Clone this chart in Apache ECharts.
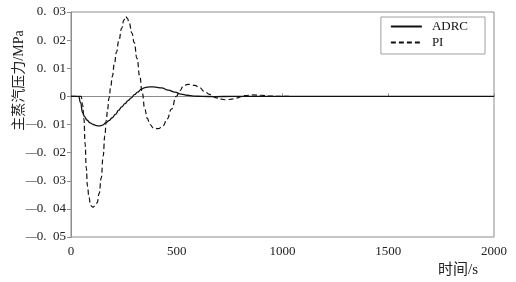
<!DOCTYPE html>
<html>
<head>
<meta charset="utf-8">
<script src="https://cdn.jsdelivr.net/npm/echarts@6/dist/echarts.min.js"></script>
<style>html,body{margin:0;padding:0;background:#fff;}#c{width:516px;height:282px;}</style>
</head>
<body>
<div id="c"></div>
<script>
var seriesNames = ['ADRC', 'PI'];
var xTicks = [0, 500, 1000, 1500, 2000];
var yTicks = [-0.05, -0.04, -0.03, -0.02, -0.01, 0, 0.01, 0.02, 0.03];
var xName = '时间/s';
var yName = '主蒸汽压力/MPa';

var adrcTime = [0, 36, 45, 55, 65, 75, 90, 105, 120, 135, 150, 165, 180, 195, 210, 225, 240, 255, 270, 285, 300, 315, 333, 350, 373, 400, 428, 460, 491, 520, 550, 580, 620, 680, 760, 1000, 1500, 2000];
var adrcValue = [0, 0, -0.0022, -0.0058, -0.0073, -0.0084, -0.0094, -0.0100, -0.0104, -0.0105, -0.0102, -0.0094, -0.0086, -0.0076, -0.0064, -0.0050, -0.0037, -0.0026, -0.0015, -0.0005, 0.0006, 0.0015, 0.0026, 0.0031, 0.0034, 0.0033, 0.0030, 0.0022, 0.0015, 0.0008, 0.0004, 0.0001, 0, -0.0001, 0, 0, 0, 0];

var piTime = [0, 48, 55, 61, 67, 72, 78, 85, 93, 104, 115, 124, 133, 143, 152, 160, 167, 173, 180, 188, 195, 205, 215, 226, 240, 250, 258, 266, 275, 288, 299, 312, 325, 337, 349, 361, 373, 390, 412, 435, 455, 475, 498, 515, 530, 548, 566, 585, 608, 630, 656, 687, 710, 734, 760, 781, 821, 860, 900, 939, 980, 1040];
var piValue = [0, 0, -0.003, -0.008, -0.017, -0.0254, -0.032, -0.036, -0.0388, -0.0394, -0.0388, -0.0378, -0.0345, -0.029, -0.0212, -0.0140, -0.0085, -0.0046, -0.0005, 0.0035, 0.0070, 0.0115, 0.0157, 0.0198, 0.0243, 0.0271, 0.0284, 0.0278, 0.0262, 0.0225, 0.0191, 0.0135, 0.0072, 0.0012, -0.0046, -0.0078, -0.0100, -0.0112, -0.0115, -0.0105, -0.0080, -0.0045, 0, 0.0020, 0.0035, 0.0042, 0.0043, 0.0039, 0.0031, 0.0018, 0.0007, -0.0005, -0.0010, -0.0012, -0.0010, -0.0006, 0.0003, 0.0005, 0.0004, 0.0001, 0, 0];

function pairs(t, v) { return t.map(function (x, i) { return [x, v[i]]; }); }

var serifFont = '"Liberation Serif", "DejaVu Serif", serif';
var cjkFont = '"Liberation Serif", "Noto Sans CJK SC", serif';

function yLabel(v) {
  var r = Math.round(v * 100);
  if (r === 0) return '0';
  var s = Math.abs(r) < 10 ? '0' + Math.abs(r) : '' + Math.abs(r);
  return (r < 0 ? '{d|—}' : '') + '0.  ' + s;
}

var chart = echarts.init(document.getElementById('c'), null, {renderer: 'canvas'});
chart.setOption({
  animation: false,
  backgroundColor: '#fff',
  title: {
    text: xName, right: 38, top: 263, padding: 0,
    textStyle: {fontFamily: cjkFont, fontSize: 15, fontWeight: 'normal', color: '#222'}
  },
  grid: {left: 71, right: 22, top: 12, bottom: 45, outerBoundsMode: 'none', containLabel: false,
    show: true, borderColor: '#8c8c8c', borderWidth: 1},
  legend: {
    data: seriesNames,
    orient: 'vertical',
    right: 31, top: 17,
    padding: [3, 17, 5, 9],
    itemWidth: 31, itemHeight: 10, itemGap: 3,
    itemStyle: {opacity: 0},
    borderColor: '#a0a0a0', borderWidth: 1, borderRadius: 0,
    backgroundColor: '#fff',
    textStyle: {fontFamily: serifFont, fontSize: 13, color: '#111', padding: [0, 0, 0, 5]}
  },
  xAxis: {
    type: 'value', min: xTicks[0], max: xTicks[xTicks.length - 1], interval: 500,
    axisLine: {lineStyle: {color: '#8c8c8c', width: 1}},
    axisTick: {inside: true, length: 3, lineStyle: {color: '#8c8c8c'}},
    axisLabel: {fontFamily: serifFont, fontSize: 13, color: '#222', margin: 8, showMaxLabel: true, showMinLabel: true,
      formatter: function (v) { return String(v); }},
    splitLine: {show: false}
  },
  yAxis: {
    type: 'value', min: yTicks[0], max: yTicks[yTicks.length - 1], interval: 0.01,
    name: yName, nameLocation: 'middle', nameGap: 45, nameMoveOverlap: false,
    nameTextStyle: {fontFamily: cjkFont, fontSize: 14, color: '#222', padding: [0, 0, 0, 88]},
    axisLine: {lineStyle: {color: '#8c8c8c', width: 1}},
    axisTick: {inside: false, length: 4, lineStyle: {color: '#8c8c8c'}},
    axisLabel: {fontFamily: serifFont, fontSize: 13, color: '#222', margin: 5, formatter: yLabel,
      rich: {d: {fontFamily: serifFont, fontSize: 11, color: '#222'}}},
    splitLine: {show: false}
  },
  series: [
    {
      name: seriesNames[0], type: 'line', data: pairs(adrcTime, adrcValue),
      symbol: 'none', smooth: 0.5, smoothMonotone: 'x', z: 3,
      lineStyle: {color: '#111', width: 1.3, type: 'solid'},
      itemStyle: {color: '#111'}
    },
    {
      name: seriesNames[1], type: 'line', data: pairs(piTime, piValue),
      symbol: 'none', smooth: 0.5, smoothMonotone: 'x', z: 2,
      lineStyle: {color: '#111', width: 1.2, type: [5, 3]},
      itemStyle: {color: '#111'}
    }
  ]
});
</script>
</body>
</html>
